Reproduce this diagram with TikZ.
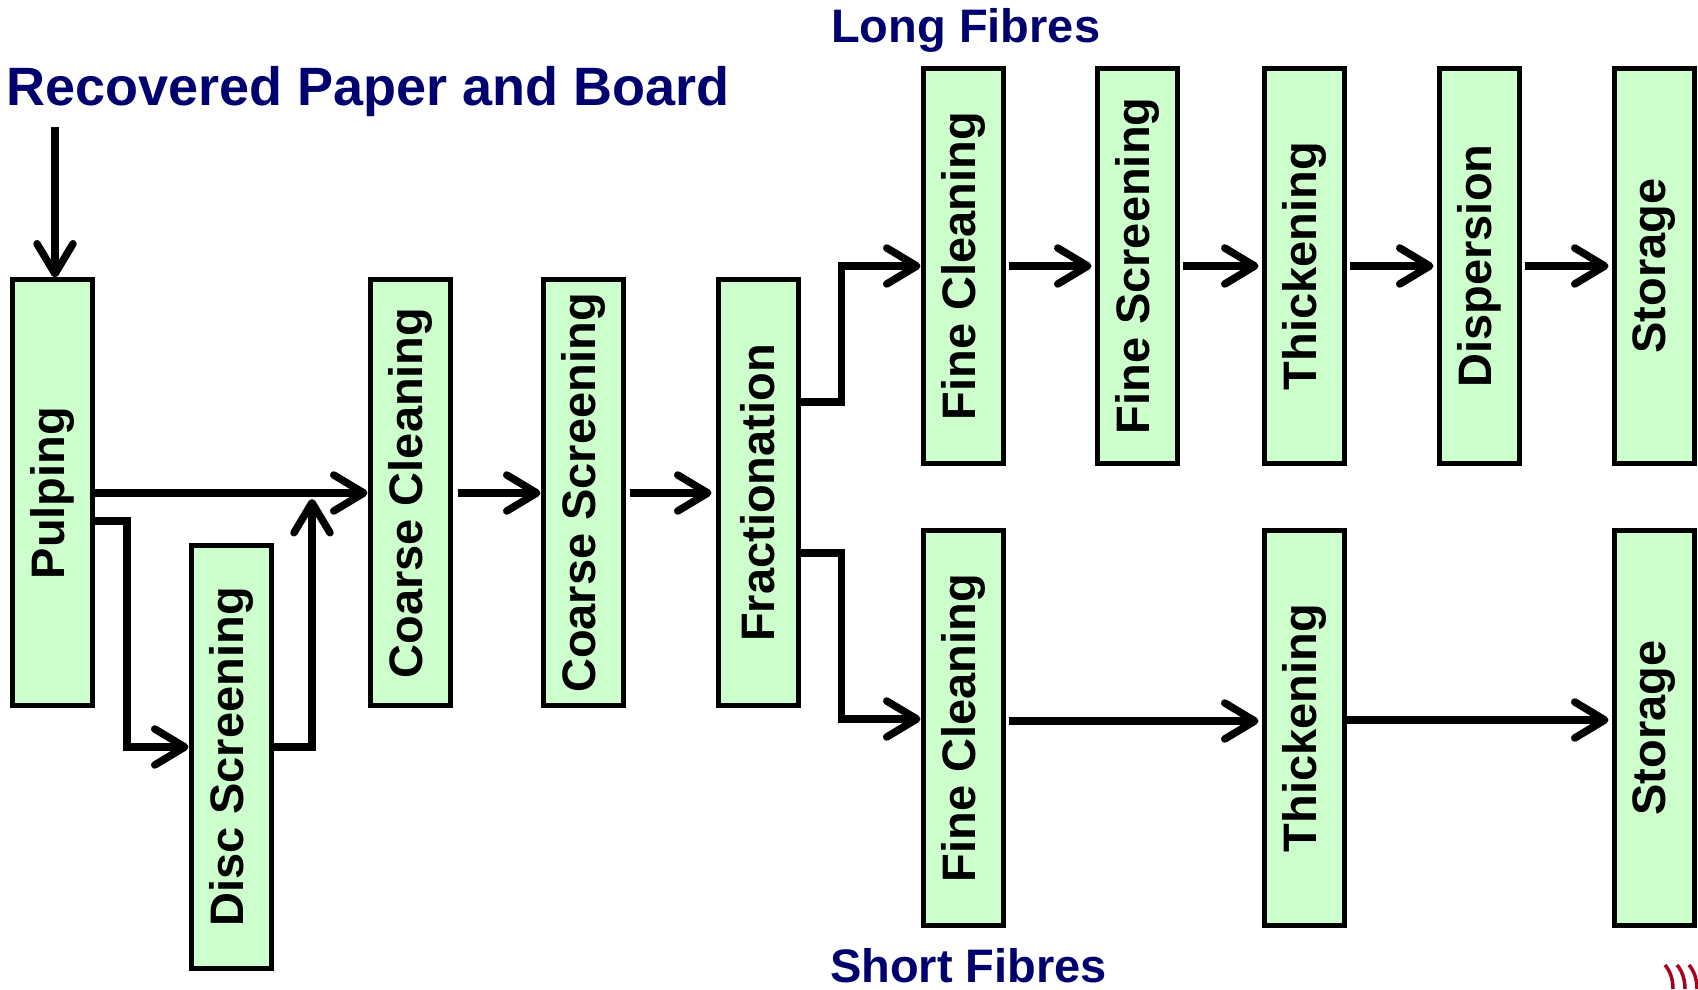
\documentclass[tikz,border=0pt]{standalone}
\usepackage{fontspec}
\setmainfont{Liberation Sans}
\usepackage{graphicx}
\usepackage{tikz}
\usetikzlibrary{positioning,arrows.meta,calc}
\definecolor{boxgreen}{HTML}{CCFFCC}
\definecolor{navy}{RGB}{0,0,110}
\definecolor{logored}{RGB}{170,0,30}
\tikzstyle{stage} = [rectangle, draw=black, line width=5pt, fill=boxgreen, minimum width=80pt, inner sep=0pt, font=\fontsize{47}{50}\selectfont\bfseries]
\tikzstyle{flow}  = [line width=7.5pt, -{Straight Barb[length=30pt,width=36pt,round]}]
\newcommand{\vlabel}[1]{\rotatebox{90}{#1}}

\begin{document}
\begin{tikzpicture}[x=1pt,y=1pt,
			main/.style={stage,minimum height=426pt},
			row/.style={stage,minimum height=395pt},
			title/.style={anchor=base west,inner sep=0pt,text=navy,font=\fontsize{47}{50}\selectfont\bfseries}]
		\useasboundingbox (0,0) rectangle (1698,989);

		% pulping line
		\node[main] (pulp) at (52,496) {\vlabel{Pulping}};
		\node[stage,minimum height=423pt] (disc) at (231,232) {\vlabel{Disc Screening}};
		\node[main] (ccl) at (410,496) {\vlabel{Coarse Cleaning}};
		\node[main,right=88pt of ccl] (cs) {\vlabel{Coarse Screening}};
		\node[main,right=90pt of cs] (fract) {\vlabel{Fractionation}};

		% long fibres
		\node[row] (fc1) at (963,723) {\vlabel{Fine Cleaning}};
		\node[row,right=89pt of fc1] (fs) {\vlabel{Fine Screening}};
		\node[row,right=82pt of fs] (th1) {\vlabel{Thickening}};
		\node[row,right=90pt of th1] (disp) {\vlabel{Dispersion}};
		\node[row,right=90pt of disp] (st1) {\vlabel{Storage}};

		% short fibres
		\node[row,below=62pt of fc1] (fc2) {\vlabel{Fine Cleaning}};
		\node[row] (th2) at (fc2 -| th1) {\vlabel{Thickening}};
		\node[row] (st2) at (fc2 -| st1) {\vlabel{Storage}};

		\node[title,font=\fontsize{54}{56}\selectfont\bfseries] (src) at (6,883) {Recovered Paper and Board};
		\node[title] (long) at (831,946) {Long Fibres};
		\node[title] (short) at (830,7) {Short Fibres};

		\coordinate (feed) at (55,862);
		\coordinate (down) at (127,242);
		\coordinate (up) at (312,490);

		\draw[flow] (feed) -- (feed |- pulp.north);
		\draw[flow] (pulp.east) -- (ccl.west);
		\draw[flow] ([yshift=-28pt]pulp.east) -| (down) -- (down -| disc.west);
		\draw[flow] ([yshift=10pt]disc.east) -| (up);
		\draw[flow,shorten <=5pt] (ccl) -- (cs);
		\draw[flow,shorten <=4pt,shorten >=4pt] (cs) -- (fract);
		\draw[flow] ([yshift=91pt]fract.east) -- ++(41,0) |- (fc1.west);
		\draw[flow] ([yshift=-60pt]fract.east) -- ++(41,0) |- ([yshift=9pt]fc2.west);

		\foreach \a/\b in {fc1/fs,fs/th1,th1/disp,disp/st1}
			\draw[flow,shorten <=3pt,shorten >=3pt] (\a) -- (\b);
		\draw[flow,shorten <=3pt,shorten >=3pt] ([yshift=7pt]fc2.east) -- ([yshift=7pt]th2.west);
		\draw[flow,shorten >=3pt] ([yshift=8pt]th2.east) -- ([yshift=8pt]st2.west);

		% logo fragment
		\foreach \x in {1665,1677,1689}
			\draw[logored,line width=3.5pt] (\x,24) .. controls (\x+6,17) and (\x+8,8) .. (\x+8,0);
	\end{tikzpicture}
\end{document}
